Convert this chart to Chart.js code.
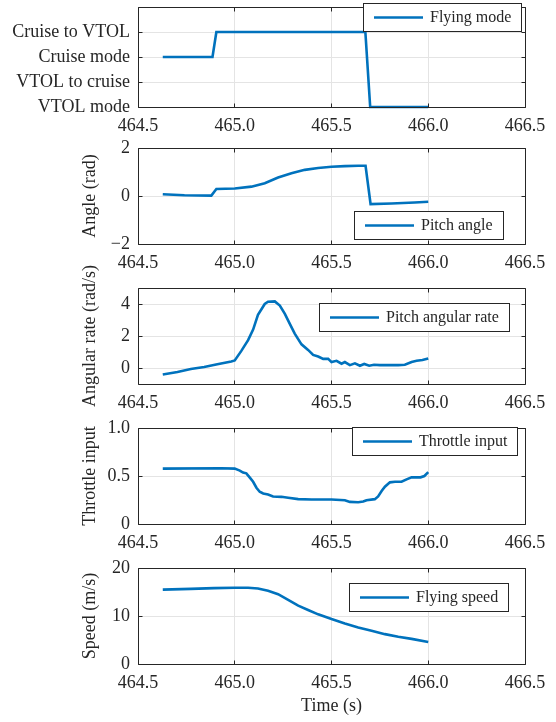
<!DOCTYPE html>
<html>
<head>
<meta charset="utf-8">
<script src="https://cdn.jsdelivr.net/npm/chart.js@4.4.1/dist/chart.umd.min.js"></script>
<style>
  html, body { margin: 0; padding: 0; background: #fff; }
  body { width: 556px; height: 722px; position: relative; overflow: hidden; }
  .panel { position: absolute; left: 0; }
  canvas { display: block; }
</style>
</head>
<body>
<div class="panel" style="top:-33px"><canvas id="c1" width="556" height="170"></canvas></div>
<div class="panel" style="top:108px"><canvas id="c2" width="556" height="166"></canvas></div>
<div class="panel" style="top:248px"><canvas id="c3" width="556" height="166"></canvas></div>
<div class="panel" style="top:388px"><canvas id="c4" width="556" height="166"></canvas></div>
<div class="panel" style="top:528px"><canvas id="c5" width="556" height="194"></canvas></div>
<script>
// shared time axis
const xTicks = [464.5, 465.0, 465.5, 466.0, 466.5];

// flying mode (0 = VTOL mode ... 3 = Cruise to VTOL)
const modeLabels = ['VTOL mode', 'VTOL to cruise', 'Cruise mode', 'Cruise to VTOL'];
const modeTicks = [0, 1, 2, 3, 4];
const modeTime = [464.628, 464.885, 464.905, 465.675, 465.700, 466.0];
const modeValue = [2, 2, 3, 3, 0, 0];

// pitch angle (rad)
const pitchTicks = [-2, 0, 2];
const pitchTime = [464.628, 464.74, 464.879, 464.905, 465.0, 465.086, 465.155, 465.224, 465.293,
  465.362, 465.431, 465.5, 465.569, 465.638, 465.676, 465.702, 465.81, 465.93, 466.0];
const pitchAngle = [0.07, 0.03, 0.015, 0.29, 0.31, 0.39, 0.53, 0.77, 0.95,
  1.09, 1.17, 1.22, 1.245, 1.26, 1.26, -0.34, -0.31, -0.27, -0.24];

// pitch angular rate (rad/s)
const rateTicks = [0, 2, 4];
const rateTime = [464.628, 464.704, 464.773, 464.842, 464.91, 464.982, 465.0, 465.034, 465.069,
  465.095, 465.12, 465.155, 465.172, 465.207, 465.233, 465.259, 465.284, 465.31, 465.345,
  465.379, 465.405, 465.431, 465.457, 465.483, 465.5, 465.526, 465.552, 465.569, 465.595,
  465.621, 465.647, 465.669, 465.695, 465.72, 465.75, 465.793, 465.845, 465.879, 465.914,
  465.94, 465.97, 466.0];
const rateValue = [-0.41, -0.25, -0.06, 0.06, 0.23, 0.41, 0.47, 1.07, 1.74,
  2.4, 3.32, 4.0, 4.14, 4.16, 3.9, 3.38, 2.77, 2.15, 1.48,
  1.13, 0.82, 0.72, 0.57, 0.57, 0.37, 0.45, 0.27, 0.37, 0.18,
  0.29, 0.14, 0.25, 0.14, 0.2, 0.18, 0.18, 0.18, 0.2, 0.37,
  0.45, 0.5, 0.6];

// throttle input
const throttleTicks = [0, 0.5, 1.0];
const throttleTime = [464.628, 464.93, 465.0, 465.026, 465.043, 465.06, 465.078, 465.095, 465.112,
  465.129, 465.147, 465.172, 465.198, 465.241, 465.276, 465.328, 465.397, 465.5, 465.569,
  465.595, 465.638, 465.664, 465.681, 465.724, 465.741, 465.759, 465.776, 465.802, 465.828,
  465.862, 465.888, 465.914, 465.96, 465.98, 466.0];
const throttleValue = [0.577, 0.58, 0.577, 0.556, 0.535, 0.528, 0.483, 0.44, 0.378,
  0.336, 0.318, 0.308, 0.287, 0.283, 0.273, 0.259, 0.255, 0.255, 0.248,
  0.23, 0.227, 0.234, 0.248, 0.259, 0.287, 0.343, 0.388, 0.434, 0.44,
  0.44, 0.465, 0.486, 0.486, 0.5, 0.54];

// flying speed (m/s)
const speedTicks = [0, 10, 20];
const speedTime = [464.628, 464.773, 464.893, 465.0, 465.069, 465.12, 465.172, 465.224, 465.276,
  465.328, 465.379, 465.431, 465.5, 465.569, 465.638, 465.707, 465.776, 465.845, 465.914, 466.0];
const speedValue = [15.5, 15.65, 15.8, 15.9, 15.9, 15.73, 15.24, 14.55, 13.36,
  12.17, 11.26, 10.35, 9.37, 8.46, 7.62, 6.92, 6.22, 5.66, 5.24, 4.6];

const serif = "'Liberation Serif', 'Times New Roman', serif";
const lineColor = '#0072BD';
const inkColor = '#262626';
const gridColor = '#e4e4e4';

function align(p) {
  return Math.round(p - 0.5) + 0.5;
}

// MATLAB-like axes box with inward ticks, plus a boxed legend inside the axes
const axesBox = {
  id: 'axesBox',
  afterDatasetsDraw(chart) {
    const { ctx, chartArea: a, scales } = chart;
    const L = align(a.left), R = align(a.right), T = align(a.top), B = align(a.bottom);
    ctx.save();
    ctx.strokeStyle = inkColor;
    ctx.lineWidth = 1;
    ctx.beginPath();
    ctx.rect(L, T, R - L, B - T);
    scales.x.ticks.forEach(t => {
      const px = align(scales.x.getPixelForValue(t.value));
      ctx.moveTo(px, B); ctx.lineTo(px, B - 4);
      ctx.moveTo(px, T); ctx.lineTo(px, T + 4);
    });
    scales.y.ticks.forEach(t => {
      const py = align(scales.y.getPixelForValue(t.value));
      ctx.moveTo(L, py); ctx.lineTo(L + 4, py);
      ctx.moveTo(R, py); ctx.lineTo(R - 4, py);
    });
    ctx.stroke();
    ctx.restore();
  },
  afterDraw(chart, args, opts) {
    const { ctx, chartArea: a } = chart;
    const text = chart.data.datasets[0].label;
    ctx.save();
    ctx.font = '16px ' + serif;
    const tw = ctx.measureText(text).width;
    const w = Math.round(11 + 49 + 7 + tw + 10), h = 28;
    const x = Math.round(a.right - opts.right - w), y = Math.round(a.top + opts.top);
    ctx.fillStyle = '#fff';
    ctx.fillRect(x, y, w, h);
    ctx.strokeStyle = inkColor;
    ctx.lineWidth = 1;
    ctx.strokeRect(x + 0.5, y + 0.5, w, h);
    ctx.strokeStyle = lineColor;
    ctx.lineWidth = 2.6;
    ctx.beginPath();
    ctx.moveTo(x + 11, y + h / 2 + 0.5);
    ctx.lineTo(x + 60, y + h / 2 + 0.5);
    ctx.stroke();
    ctx.fillStyle = inkColor;
    ctx.textBaseline = 'middle';
    ctx.fillText(text, x + 67, y + h / 2 + 1);
    ctx.restore();
  }
};

function toPoints(xs, ys) {
  return xs.map((x, i) => ({ x: x, y: ys[i] }));
}

function minus(v) {
  return String(v).replace('-', '\u2212');
}

function makePanel(id, cfg) {
  const ctx = document.getElementById(id).getContext('2d');
  return new Chart(ctx, {
    type: 'line',
    data: {
      datasets: [{
        label: cfg.label,
        data: toPoints(cfg.time, cfg.values),
        borderColor: lineColor,
        borderWidth: 2.6,
        pointRadius: 0,
        fill: false,
        tension: 0,
        clip: cfg.clip === undefined ? 2 : cfg.clip
      }]
    },
    options: {
      responsive: false,
      animation: false,
      devicePixelRatio: 1,
      layout: { padding: { left: 0, right: 31, top: 40, bottom: 0 } },
      plugins: {
        legend: { display: false },
        tooltip: { enabled: false },
        axesBox: cfg.legend
      },
      scales: {
        x: {
          type: 'linear',
          min: 464.5,
          max: 466.5,
          afterBuildTicks: s => { s.ticks = xTicks.map(v => ({ value: v })); },
          afterFit: s => { s.height = cfg.xHeight; s.paddingLeft = 0; s.paddingRight = 0; },
          border: { display: false },
          grid: { color: gridColor, drawTicks: false, lineWidth: 1 },
          ticks: {
            padding: 8,
            color: inkColor,
            font: { family: serif, size: 18 },
            maxRotation: 0,
            autoSkip: false,
            callback: v => v.toFixed(1)
          },
          title: {
            display: !!cfg.xTitle,
            text: cfg.xTitle || '',
            color: inkColor,
            font: { family: serif, size: 18 },
            padding: { top: 0, bottom: 4.5 }
          }
        },
        y: {
          min: cfg.yMin,
          max: cfg.yMax,
          afterBuildTicks: s => { s.ticks = cfg.yTicks.map(v => ({ value: v })); },
          afterFit: s => { s.width = 138; s.paddingTop = 0; s.paddingBottom = 0; },
          border: { display: false },
          grid: { color: gridColor, drawTicks: false, lineWidth: 1 },
          ticks: {
            padding: 8,
            color: inkColor,
            font: { family: serif, size: 18 },
            autoSkip: false,
            callback: cfg.yLabel || (v => minus(v))
          },
          title: {
            display: !!cfg.yTitle,
            text: cfg.yTitle || '',
            color: inkColor,
            font: { family: serif, size: 18 },
            padding: { top: 79, bottom: 0 }
          }
        }
      }
    },
    plugins: [axesBox]
  });
}

makePanel('c1', {
  label: 'Flying mode', time: modeTime, values: modeValue, clip: false,
  yMin: 0, yMax: 4, yTicks: modeTicks, yLabel: v => modeLabels[v] || '',
  xHeight: 30, legend: { right: 4, top: -4 }
});

makePanel('c2', {
  label: 'Pitch angle', time: pitchTime, values: pitchAngle,
  yMin: -2, yMax: 2, yTicks: pitchTicks, yTitle: 'Angle (rad)',
  xHeight: 30, legend: { right: 22, top: 63 }
});

makePanel('c3', {
  label: 'Pitch angular rate', time: rateTime, values: rateValue,
  yMin: -1, yMax: 5, yTicks: rateTicks, yTitle: 'Angular rate (rad/s)',
  xHeight: 30, legend: { right: 16, top: 15 }
});

makePanel('c4', {
  label: 'Throttle input', time: throttleTime, values: throttleValue,
  yMin: 0, yMax: 1, yTicks: throttleTicks, yTitle: 'Throttle input',
  yLabel: v => (v === 0 ? '0' : v.toFixed(1)),
  xHeight: 30, legend: { right: 8, top: -1 }
});

makePanel('c5', {
  label: 'Flying speed', time: speedTime, values: speedValue,
  yMin: 0, yMax: 20, yTicks: speedTicks, yTitle: 'Speed (m/s)',
  xTitle: 'Time (s)',
  xHeight: 58, legend: { right: 17, top: 15 }
});
</script>
</body>
</html>
